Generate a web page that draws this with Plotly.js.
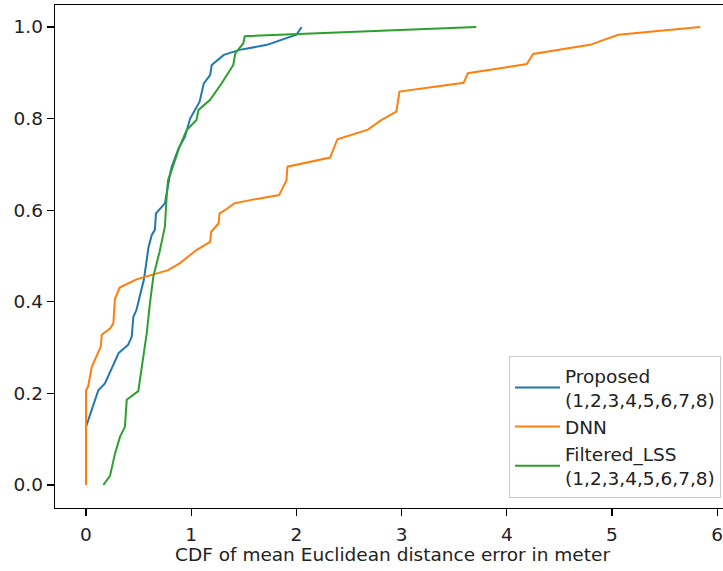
<!DOCTYPE html>
<html>
<head>
<meta charset="utf-8">
<script src="https://cdn.plot.ly/plotly-3.0.1.min.js"></script>
<style>
html, body { margin: 0; padding: 0; overflow: hidden; background: #fff; }
#chart { width: 740px; height: 571px; }
</style>
</head>
<body>
<div id="chart"></div>
<script>
// Series names
const seriesNames = ["Proposed<br>(1,2,3,4,5,6,7,8)", "DNN", "Filtered_LSS<br>(1,2,3,4,5,6,7,8)"];

// Proposed (1,2,3,4,5,6,7,8)
const proposedX = [0, 0.117, 0.18, 0.31, 0.40, 0.435, 0.45, 0.48, 0.51, 0.55, 0.577, 0.592, 0.625, 0.655, 0.665, 0.73, 0.75, 0.80, 0.815, 0.88, 0.94, 0.99, 1.08, 1.12, 1.18, 1.195, 1.31, 1.46, 1.72, 2.0, 2.05];
const proposedY = [0.127, 0.207, 0.222, 0.288, 0.306, 0.324, 0.367, 0.382, 0.411, 0.448, 0.491, 0.517, 0.546, 0.557, 0.593, 0.611, 0.615, 0.68, 0.695, 0.735, 0.76, 0.80, 0.837, 0.877, 0.895, 0.917, 0.939, 0.950, 0.961, 0.983, 1.0];

// DNN
const dnnX = [0, 0, 0.02, 0.04, 0.055, 0.14, 0.15, 0.23, 0.26, 0.275, 0.32, 0.48, 0.67, 0.78, 0.89, 1.05, 1.18, 1.19, 1.26, 1.27, 1.32, 1.41, 1.56, 1.835, 1.905, 1.915, 2.32, 2.39, 2.68, 2.81, 2.95, 2.98, 3.59, 3.63, 4.19, 4.25, 4.79, 5.06, 5.84];
const dnnY = [0, 0.207, 0.215, 0.244, 0.258, 0.302, 0.328, 0.342, 0.353, 0.406, 0.431, 0.449, 0.462, 0.469, 0.484, 0.513, 0.531, 0.553, 0.571, 0.593, 0.60, 0.615, 0.622, 0.633, 0.665, 0.695, 0.715, 0.755, 0.776, 0.797, 0.815, 0.859, 0.878, 0.899, 0.919, 0.941, 0.961, 0.983, 1.0];

// Filtered_LSS (1,2,3,4,5,6,7,8)
const lssX = [0.165, 0.228, 0.276, 0.323, 0.37, 0.387, 0.497, 0.53, 0.577, 0.608, 0.64, 0.70, 0.75, 0.767, 0.78, 0.815, 0.89, 0.957, 1.05, 1.07, 1.18, 1.29, 1.40, 1.42, 1.495, 1.51, 3.71];
const lssY = [0, 0.02, 0.069, 0.105, 0.127, 0.186, 0.205, 0.258, 0.331, 0.397, 0.455, 0.51, 0.564, 0.63, 0.666, 0.688, 0.739, 0.775, 0.797, 0.819, 0.841, 0.877, 0.917, 0.943, 0.964, 0.98, 1.0];

// Axis ticks
const xTicks = [0, 1, 2, 3, 4, 5, 6];
const yTicks = [0.0, 0.2, 0.4, 0.6, 0.8, 1.0];
const yTickLabels = ["0.0", "0.2", "0.4", "0.6", "0.8", "1.0"];
const xTitle = "CDF of mean Euclidean distance error in meter";

const colors = ["#1f77b4", "#ff7f0e", "#2ca02c"];
const font = "DejaVu Sans, sans-serif";
const fs = 18.5;

const traces = [
  {x: proposedX, y: proposedY, name: seriesNames[0], mode: "lines", line: {color: colors[0], width: 2}},
  {x: dnnX, y: dnnY, name: seriesNames[1], mode: "lines", line: {color: colors[1], width: 2}},
  {x: lssX, y: lssY, name: seriesNames[2], mode: "lines", line: {color: colors[2], width: 2}}
];

const layout = {
  width: 740,
  height: 571,
  margin: {l: 55, r: 10, t: 5, b: 63},
  paper_bgcolor: "#fff",
  plot_bgcolor: "#fff",
  font: {family: font, size: fs, color: "#222"},
  showlegend: true,
  legend: {
    x: 0.9867, y: 0.02, xanchor: "right", yanchor: "bottom",
    bgcolor: "rgba(255,255,255,0.8)", bordercolor: "#cccccc", borderwidth: 1,
    font: {family: font, size: fs, color: "#222"},
    valign: "middle", tracegroupgap: 0, itemwidth: 45
  },
  xaxis: {
    range: [-0.2947, 6.122],
    tickvals: xTicks,
    ticks: "outside", ticklen: 7, tickwidth: 1.3, tickcolor: "#000",
    showline: true, mirror: true, linecolor: "#000", linewidth: 1.3,
    showgrid: false, zeroline: false,
    ticklabelstandoff: 2,
    tickfont: {family: font, size: fs, color: "#222"},
    title: {text: xTitle, font: {family: font, size: fs, color: "#222"}, standoff: 2}
  },
  yaxis: {
    range: [-0.0502, 1.048],
    tickvals: yTicks, ticktext: yTickLabels,
    ticks: "outside", ticklen: 7, tickwidth: 1.3, tickcolor: "#000",
    showline: true, mirror: true, linecolor: "#000", linewidth: 1.3,
    showgrid: false, zeroline: false,
    tickfont: {family: font, size: fs, color: "#222"}
  }
};

Plotly.newPlot("chart", traces, layout, {displayModeBar: false, staticPlot: true});
</script>
</body>
</html>
